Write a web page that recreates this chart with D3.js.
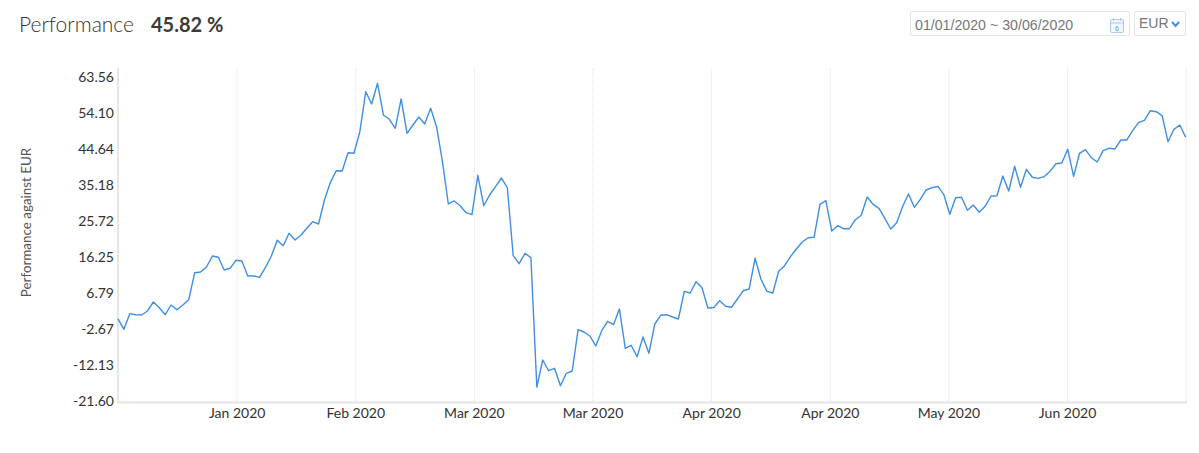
<!DOCTYPE html>
<html>
<head>
<meta charset="utf-8">
<title>Performance</title>
<style>
  html, body { margin: 0; padding: 0; background: #fff; }
  svg { display: block; font-family: Lato, sans-serif; }
</style>
</head>
<body>
<svg width="1199" height="453"></svg>
<script src="https://d3js.org/d3.v7.min.js"></script>
<script>

var yTicks = [63.56, 54.10, 44.64, 35.18, 25.72, 16.25, 6.79, -2.67, -12.13, -21.60];
var xLabels = ["Jan 2020", "Feb 2020", "Mar 2020", "Mar 2020", "Apr 2020", "Apr 2020", "May 2020", "Jun 2020", ""];

// one value per day, 01/01/2020 to 30/06/2020
var performance = [
  0.00, -2.75, 1.35, 1.08, 1.00, 2.06, 4.42, 2.92, 1.08, 3.63,
  2.40, 3.63, 5.03, 12.12, 12.31, 13.62, 16.51, 16.17, 12.83, 13.28,
  15.38, 15.20, 11.25, 11.25, 10.91, 13.54, 16.51, 20.64, 19.22, 22.48,
  20.72, 21.95, 23.79, 25.53, 24.92, 31.23, 35.88, 38.93, 38.85, 43.66,
  43.51, 49.18, 59.70, 56.46, 61.90, 53.57, 52.44, 50.08, 57.78, 48.76,
  50.94, 53.05, 51.21, 55.33, 50.50, 41.30, 30.18, 30.97, 29.73, 27.89,
  27.37, 37.72, 29.73, 32.54, 34.73, 37.01, 34.46, 16.59, 14.49, 17.22,
  16.07, -17.92, -10.82, -13.64, -13.01, -17.58, -14.32, -13.71, -2.86, -3.46,
  -4.52, -7.14, -3.12, -0.65, -1.54, 2.58, -7.75, -6.96, -9.96, -4.78,
  -9.06, -1.36, 0.93, 1.08, 0.48, -0.05, 7.23, 6.79, 9.76, 8.15,
  2.84, 2.98, 4.76, 3.29, 3.03, 5.21, 7.39, 7.84, 15.91, 10.39,
  7.23, 6.79, 12.49, 13.96, 16.33, 18.35, 20.19, 21.32, 21.43, 30.10,
  31.05, 23.08, 24.48, 23.69, 23.69, 26.05, 27.21, 32.02, 30.10, 29.05,
  26.42, 23.61, 25.26, 29.47, 32.81, 29.31, 31.41, 33.86, 34.46, 34.83,
  32.62, 27.50, 31.84, 31.94, 28.52, 29.92, 28.00, 29.57, 32.28, 32.36,
  37.54, 33.60, 40.09, 34.57, 39.30, 37.20, 36.93, 37.36, 38.77, 40.77,
  40.96, 44.56, 37.46, 43.51, 44.45, 42.35, 41.22, 44.19, 44.82, 44.64,
  47.00, 47.00, 49.45, 51.55, 52.18, 54.70, 54.44, 53.39, 46.55, 49.81,
  50.94, 47.71
];

var svg = d3.select("svg"),
    plotLeft = 118,
    plotRight = 1185.7,
    plotTop = 68,
    plotBottom = 402.5;

var x = d3.scaleLinear()
    .domain([0, performance.length - 1])
    .range([plotLeft, plotRight]);

var y = d3.scaleLinear()
    .domain([-21.60, 63.56])
    .range([401, 77]);

// tick labels sit at equal steps along the axis, not on real dates
var xStep = (performance.length - 1) / xLabels.length;
var xTicks = xLabels.map(function(d, i) { return (i + 1) * xStep; });

svg.append("g")
    .selectAll("line")
    .data(xTicks)
    .enter().append("line")
    .attr("x1", function(d) { return x(d) + 0.5; })
    .attr("x2", function(d) { return x(d) + 0.5; })
    .attr("y1", plotTop)
    .attr("y2", plotBottom)
    .attr("stroke", "#e2e2e2")
    .attr("stroke-dasharray", "1,1");

var yAxis = svg.append("g")
    .attr("transform", "translate(" + plotLeft + ",0)")
    .call(d3.axisLeft(y).tickValues(yTicks).tickSize(0).tickPadding(4)
      .tickFormat(function(d) { return d.toFixed(2); }));
yAxis.select(".domain").remove();
yAxis.selectAll("text")
    .attr("font-family", "Lato, sans-serif")
    .attr("font-size", 14)
    .attr("fill", "#333");

var xAxis = svg.append("g")
    .attr("transform", "translate(0," + plotBottom + ")")
    .call(d3.axisBottom(x).tickValues(xTicks).tickSize(0).tickPadding(5.5)
      .tickFormat(function(d, i) { return xLabels[i]; }));
xAxis.select(".domain").remove();
xAxis.selectAll("text")
    .attr("font-family", "Lato, sans-serif")
    .attr("font-size", 14)
    .attr("fill", "#333");

svg.append("path")
    .attr("d", "M" + plotLeft + "," + plotTop + "V" + plotBottom + "H" + (plotRight + 1))
    .attr("fill", "none")
    .attr("stroke", "#e6e6e6")
    .attr("stroke-width", 2);

svg.append("text")
    .attr("transform", "translate(31,222.5) rotate(-90)")
    .attr("text-anchor", "middle")
    .attr("font-size", 13.4)
    .attr("fill", "#555")
    .text("Performance against EUR");

var line = d3.line()
    .x(function(d, i) { return x(i); })
    .y(function(d) { return y(d); });

svg.append("path")
    .datum(performance)
    .attr("d", line)
    .attr("fill", "none")
    .attr("stroke", "#3f8fe2")
    .attr("stroke-width", 1.4)
    .attr("stroke-linejoin", "round");

// header
svg.append("text")
    .attr("x", 19)
    .attr("y", 32)
    .attr("font-size", 21)
    .attr("font-weight", 300)
    .attr("fill", "#333")
    .text("Performance");

svg.append("text")
    .attr("x", 151)
    .attr("y", 32)
    .attr("font-size", 20)
    .attr("font-weight", 700)
    .attr("fill", "#3a3a3a")
    .text("45.82 %");

svg.append("rect")
    .attr("x", 910.5).attr("y", 11.5)
    .attr("width", 219).attr("height", 24)
    .attr("rx", 2)
    .attr("fill", "#fff")
    .attr("stroke", "#e4e4e4");

svg.append("text")
    .attr("x", 915)
    .attr("y", 30)
    .attr("font-family", "'Liberation Sans', sans-serif")
    .attr("font-size", 14.2)
    .attr("fill", "#777")
    .text("01/01/2020 ~ 30/06/2020");

// calendar icon
var cal = svg.append("g")
    .attr("transform", "translate(1110,18)");
cal.append("rect")
    .attr("x", 0.5).attr("y", 1.5)
    .attr("width", 13).attr("height", 13)
    .attr("rx", 1.5)
    .attr("fill", "#f2f7fd")
    .attr("stroke", "#a9cdf2");
cal.append("path")
    .attr("d", "M0.5,5H13.5M3.5,0V3M10.5,0V3")
    .attr("stroke", "#a9cdf2")
    .attr("fill", "none");
cal.append("text")
    .attr("x", 7)
    .attr("y", 13)
    .attr("text-anchor", "middle")
    .attr("font-family", "'Liberation Sans', sans-serif")
    .attr("font-size", 7)
    .attr("fill", "#5b9be0")
    .text("6");

svg.append("rect")
    .attr("x", 1134.5).attr("y", 11.5)
    .attr("width", 51).attr("height", 24)
    .attr("rx", 2)
    .attr("fill", "#fff")
    .attr("stroke", "#e4e4e4");

svg.append("text")
    .attr("x", 1139)
    .attr("y", 28)
    .attr("font-family", "'Liberation Sans', sans-serif")
    .attr("font-size", 14)
    .attr("fill", "#777")
    .text("EUR");

svg.append("path")
    .attr("d", "M1172,22L1175.5,26L1179,22")
    .attr("fill", "none")
    .attr("stroke", "#3f8fe2")
    .attr("stroke-width", 2);

</script>
</body>
</html>
